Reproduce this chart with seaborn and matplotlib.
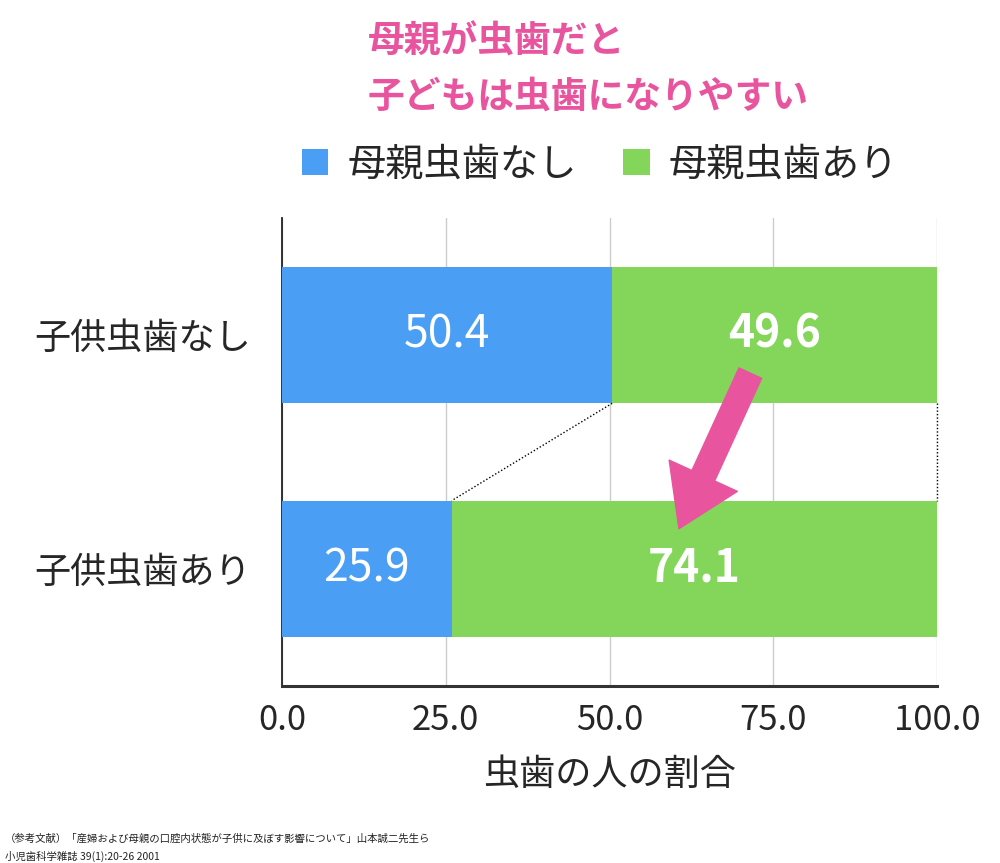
import matplotlib
matplotlib.use("Agg")
import matplotlib.pyplot as plt
import seaborn as sns
from matplotlib.patches import Patch

# ---- data ----
categories = ["子供虫歯なし", "子供虫歯あり"]
mother_no = [50.4, 25.9]      # 母親虫歯なし
mother_yes = [49.6, 74.1]     # 母親虫歯あり
series_names = ["母親虫歯なし", "母親虫歯あり"]
xticks = [0, 25, 50, 75, 100]
title_lines = ["母親が虫歯だと", "子どもは虫歯になりやすい"]
xlabel = "虫歯の人の割合"
footnote = ["（参考文献）「産婦および母親の口腔内状態が子供に及ぼす影響について」山本誠二先生ら",
            "小児歯科学雑誌 39(1):20-26 2001"]

BLUE = "#4A9FF5"
GREEN = "#84D65A"
PINK = "#E8559E"

sns.set_theme(style="white")
plt.rcParams["font.family"] = ["Noto Sans CJK JP", "DejaVu Sans"]

fig = plt.figure(figsize=(10, 8.63), dpi=100)
fig.patch.set_facecolor("white")
ax = fig.add_axes([0.282, 0.2051, 0.655, 0.5423])

totals = [a + b for a, b in zip(mother_no, mother_yes)]
bar_w = 0.584
sns.barplot(x=totals, y=categories, orient="h", color=GREEN, saturation=1,
            width=bar_w, errorbar=None, ax=ax, zorder=3, linewidth=0, edgecolor="none")
sns.barplot(x=mother_no, y=categories, orient="h", color=BLUE, saturation=1,
            width=bar_w, errorbar=None, ax=ax, zorder=3, linewidth=0, edgecolor="none")

ax.set_xlim(0, 100)
ax.set_ylim(1.5, -0.5)
ax.set_xticks(xticks)
ax.set_xticklabels([f"{v:.1f}" for v in xticks], fontsize=25)
ax.tick_params(axis="y", labelsize=26, pad=22, length=0)
ax.tick_params(axis="x", pad=12, length=0)
ax.set_ylabel("")
ax.set_xlabel(xlabel, fontsize=26, labelpad=14)

ax.grid(axis="x", color="#cccccc", linewidth=1, zorder=0)
ax.set_axisbelow(True)
for s in ["top", "right"]:
    ax.spines[s].set_visible(False)
ax.spines["left"].set_color("#222222")
ax.spines["left"].set_linewidth(1.3)
ax.spines["bottom"].set_color("#333333")
ax.spines["bottom"].set_linewidth(2.2)

# bar labels
for i, (a, b) in enumerate(zip(mother_no, mother_yes)):
    ax.text(a / 2, i, f"{a:.1f}", color="white", fontsize=32,
            ha="center", va="center", zorder=5)
    ax.text(a + b / 2, i, f"{b:.1f}", color="white", fontsize=32,
            fontweight="bold", ha="center", va="center", zorder=5)

# dotted connectors
h = bar_w / 2
ax.plot([mother_no[0], mother_no[1]], [0 + h, 1 - h], ls=(0, (1, 1.5)),
        color="black", lw=1, zorder=4)
ax.plot([totals[0], totals[1]], [0 + h, 1 - h], ls=(0, (1, 1.5)),
        color="black", lw=1, zorder=4, clip_on=False)

# pink arrow
ax.annotate("", xy=(60.6, 0.828), xytext=(71.5, 0.163),
            arrowprops=dict(arrowstyle="simple,head_length=1.05,head_width=1.35,tail_width=0.45",
                            color=PINK, shrinkA=0, shrinkB=0, mutation_scale=40),
            zorder=6)

# title
fig.text(0.368, 1 - 42 / 863, title_lines[0], color=PINK, fontsize=26.5,
         fontweight="bold", ha="left", va="center")
fig.text(0.368, 1 - 97 / 863, title_lines[1], color=PINK, fontsize=26.5,
         fontweight="bold", ha="left", va="center")

# legend
handles = [Patch(facecolor=BLUE, edgecolor="none"), Patch(facecolor=GREEN, edgecolor="none")]
fig.legend(handles, series_names, loc="center", bbox_to_anchor=(0.6, 1 - 165 / 863),
           ncol=2, frameon=False, fontsize=27.5, handlelength=0.7, handleheight=0.7,
           handletextpad=0.5, columnspacing=1.2)

# footnote
fig.text(0.005, 1 - 839 / 863, footnote[0], fontsize=7.5, color="#222222", va="center")
fig.text(0.005, 1 - 856 / 863, footnote[1], fontsize=7.5, color="#222222", va="center")

fig.savefig("out.png", dpi=100, facecolor="white")
